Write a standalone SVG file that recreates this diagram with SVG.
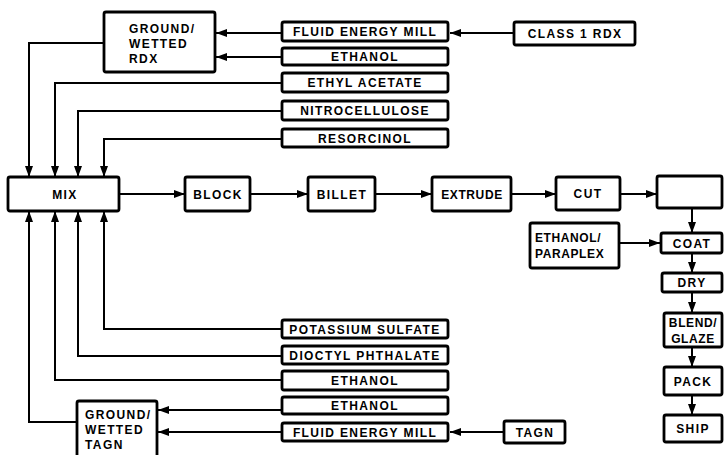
<svg xmlns="http://www.w3.org/2000/svg" width="724" height="455" viewBox="0 0 724 455">
<style>
.box{fill:#fff;stroke:#000;stroke-width:2.8}
.t{font-family:"Liberation Sans",Arial,sans-serif;font-weight:bold;font-size:12px;letter-spacing:1.4px;fill:#000}
.c{text-anchor:middle}
.n{letter-spacing:0.6px}
.ln{fill:none;stroke:#000;stroke-width:2}
</style>
<defs>
<marker id="ah" viewBox="0 0 11 8" refX="11" refY="4" markerWidth="11" markerHeight="8" markerUnits="userSpaceOnUse" orient="auto">
<path d="M0,0 L11,4 L0,8 Z" fill="#000"/>
</marker>
</defs>
<rect width="724" height="455" fill="#fff"/>

<g id="connectors">
<path class="ln" d="M514,33 H450" marker-end="url(#ah)"/>
<path class="ln" d="M281,33 H216" marker-end="url(#ah)"/>
<path class="ln" d="M281,57 H216" marker-end="url(#ah)"/>
<path class="ln" d="M104,43 H29 V177" marker-end="url(#ah)"/>
<path class="ln" d="M281,83 H55 V177" marker-end="url(#ah)"/>
<path class="ln" d="M281,111 H78 V177" marker-end="url(#ah)"/>
<path class="ln" d="M281,139 H104 V177" marker-end="url(#ah)"/>
<path class="ln" d="M120,194 H185" marker-end="url(#ah)"/>
<path class="ln" d="M251,194 H308" marker-end="url(#ah)"/>
<path class="ln" d="M376,194 H432" marker-end="url(#ah)"/>
<path class="ln" d="M512,194 H556" marker-end="url(#ah)"/>
<path class="ln" d="M621,194 H657" marker-end="url(#ah)"/>
<path class="ln" d="M692,208 V233" marker-end="url(#ah)"/>
<path class="ln" d="M620,243 H660" marker-end="url(#ah)"/>
<path class="ln" d="M692,254 V273" marker-end="url(#ah)"/>
<path class="ln" d="M692,293 V313" marker-end="url(#ah)"/>
<path class="ln" d="M692,348 V367" marker-end="url(#ah)"/>
<path class="ln" d="M692,396 V415" marker-end="url(#ah)"/>
<path class="ln" d="M281,329 H104 V211" marker-end="url(#ah)"/>
<path class="ln" d="M281,356 H78 V211" marker-end="url(#ah)"/>
<path class="ln" d="M281,380 H55 V211" marker-end="url(#ah)"/>
<path class="ln" d="M77,422 H29 V211" marker-end="url(#ah)"/>
<path class="ln" d="M281,410 H158" marker-end="url(#ah)"/>
<path class="ln" d="M281,432 H158" marker-end="url(#ah)"/>
<path class="ln" d="M504,432 H450" marker-end="url(#ah)"/>
</g>

<g id="rdx_ground"><rect class="box" x="104" y="12" width="111" height="60" rx="2"/>
<text class="t" x="129" y="33">GROUND/</text><text class="t" x="129" y="48">WETTED</text><text class="t" x="129" y="63">RDX</text></g>
<g id="fem_top"><rect class="box" x="282" y="22" width="166" height="19" rx="2"/><text class="t c" x="365" y="36">FLUID ENERGY MILL</text></g>
<g id="class1rdx"><rect class="box" x="514" y="22" width="121" height="23" rx="2"/><text class="t c" x="575" y="38">CLASS 1 RDX</text></g>
<g id="ethanol_top"><rect class="box" x="282" y="48" width="166" height="17" rx="2"/><text class="t c" x="365" y="61">ETHANOL</text></g>
<g id="ethyl_acetate"><rect class="box" x="282" y="73" width="166" height="19" rx="2"/><text class="t c" x="365" y="87">ETHYL ACETATE</text></g>
<g id="nitrocellulose"><rect class="box" x="282" y="101" width="166" height="19" rx="2"/><text class="t c" x="365" y="115">NITROCELLULOSE</text></g>
<g id="resorcinol"><rect class="box" x="282" y="129" width="166" height="18" rx="2"/><text class="t c" x="365" y="143">RESORCINOL</text></g>

<g id="mix"><rect class="box" x="8" y="177" width="111" height="34" rx="2"/><text class="t c" x="65" y="199">MIX</text></g>
<g id="block"><rect class="box" x="185" y="177" width="65" height="34" rx="2"/><text class="t c" x="218" y="199">BLOCK</text></g>
<g id="billet"><rect class="box" x="308" y="177" width="67" height="34" rx="2"/><text class="t c" x="342" y="199">BILLET</text></g>
<g id="extrude"><rect class="box" x="432" y="177" width="79" height="34" rx="2"/><text class="t c n" x="472" y="199">EXTRUDE</text></g>
<g id="cut"><rect class="box" x="556" y="177" width="64" height="33" rx="2"/><text class="t c" x="588" y="198">CUT</text></g>
<g id="blank"><rect class="box" x="657" y="176" width="65" height="32" rx="2"/></g>
<g id="ethanol_paraplex"><rect class="box" x="530" y="223" width="89" height="45" rx="2"/>
<text class="t n" x="535" y="242">ETHANOL/</text><text class="t n" x="535" y="258">PARAPLEX</text></g>
<g id="coat"><rect class="box" x="661" y="233" width="61" height="20" rx="2"/><text class="t c" x="692" y="248">COAT</text></g>
<g id="dry"><rect class="box" x="662" y="273" width="60" height="19" rx="2"/><text class="t c" x="692" y="287">DRY</text></g>
<g id="blend_glaze"><rect class="box" x="664" y="313" width="58" height="34" rx="2"/>
<text class="t c n" x="693" y="327">BLEND/</text><text class="t c n" x="693" y="343">GLAZE</text></g>
<g id="pack"><rect class="box" x="664" y="367" width="58" height="28" rx="2"/><text class="t c" x="693" y="386">PACK</text></g>
<g id="ship"><rect class="box" x="664" y="415" width="58" height="27" rx="2"/><text class="t c" x="693" y="433">SHIP</text></g>

<g id="potassium_sulfate"><rect class="box" x="282" y="320" width="166" height="18" rx="2"/><text class="t c" x="365" y="334">POTASSIUM SULFATE</text></g>
<g id="dioctyl_phthalate"><rect class="box" x="282" y="346" width="166" height="18" rx="2"/><text class="t c" x="365" y="360">DIOCTYL PHTHALATE</text></g>
<g id="ethanol_mid"><rect class="box" x="282" y="371" width="166" height="19" rx="2"/><text class="t c" x="365" y="385">ETHANOL</text></g>
<g id="ethanol_low"><rect class="box" x="282" y="397" width="166" height="17" rx="2"/><text class="t c" x="365" y="410">ETHANOL</text></g>
<g id="fem_bottom"><rect class="box" x="282" y="423" width="166" height="18" rx="2"/><text class="t c" x="365" y="437">FLUID ENERGY MILL</text></g>
<g id="tagn"><rect class="box" x="504" y="421" width="61" height="22" rx="2"/><text class="t c" x="535" y="437">TAGN</text></g>
<g id="tagn_ground"><rect class="box" x="77" y="401" width="80" height="60" rx="2"/>
<text class="t" x="85" y="419">GROUND/</text><text class="t" x="85" y="434">WETTED</text><text class="t" x="85" y="449">TAGN</text></g>
</svg>
